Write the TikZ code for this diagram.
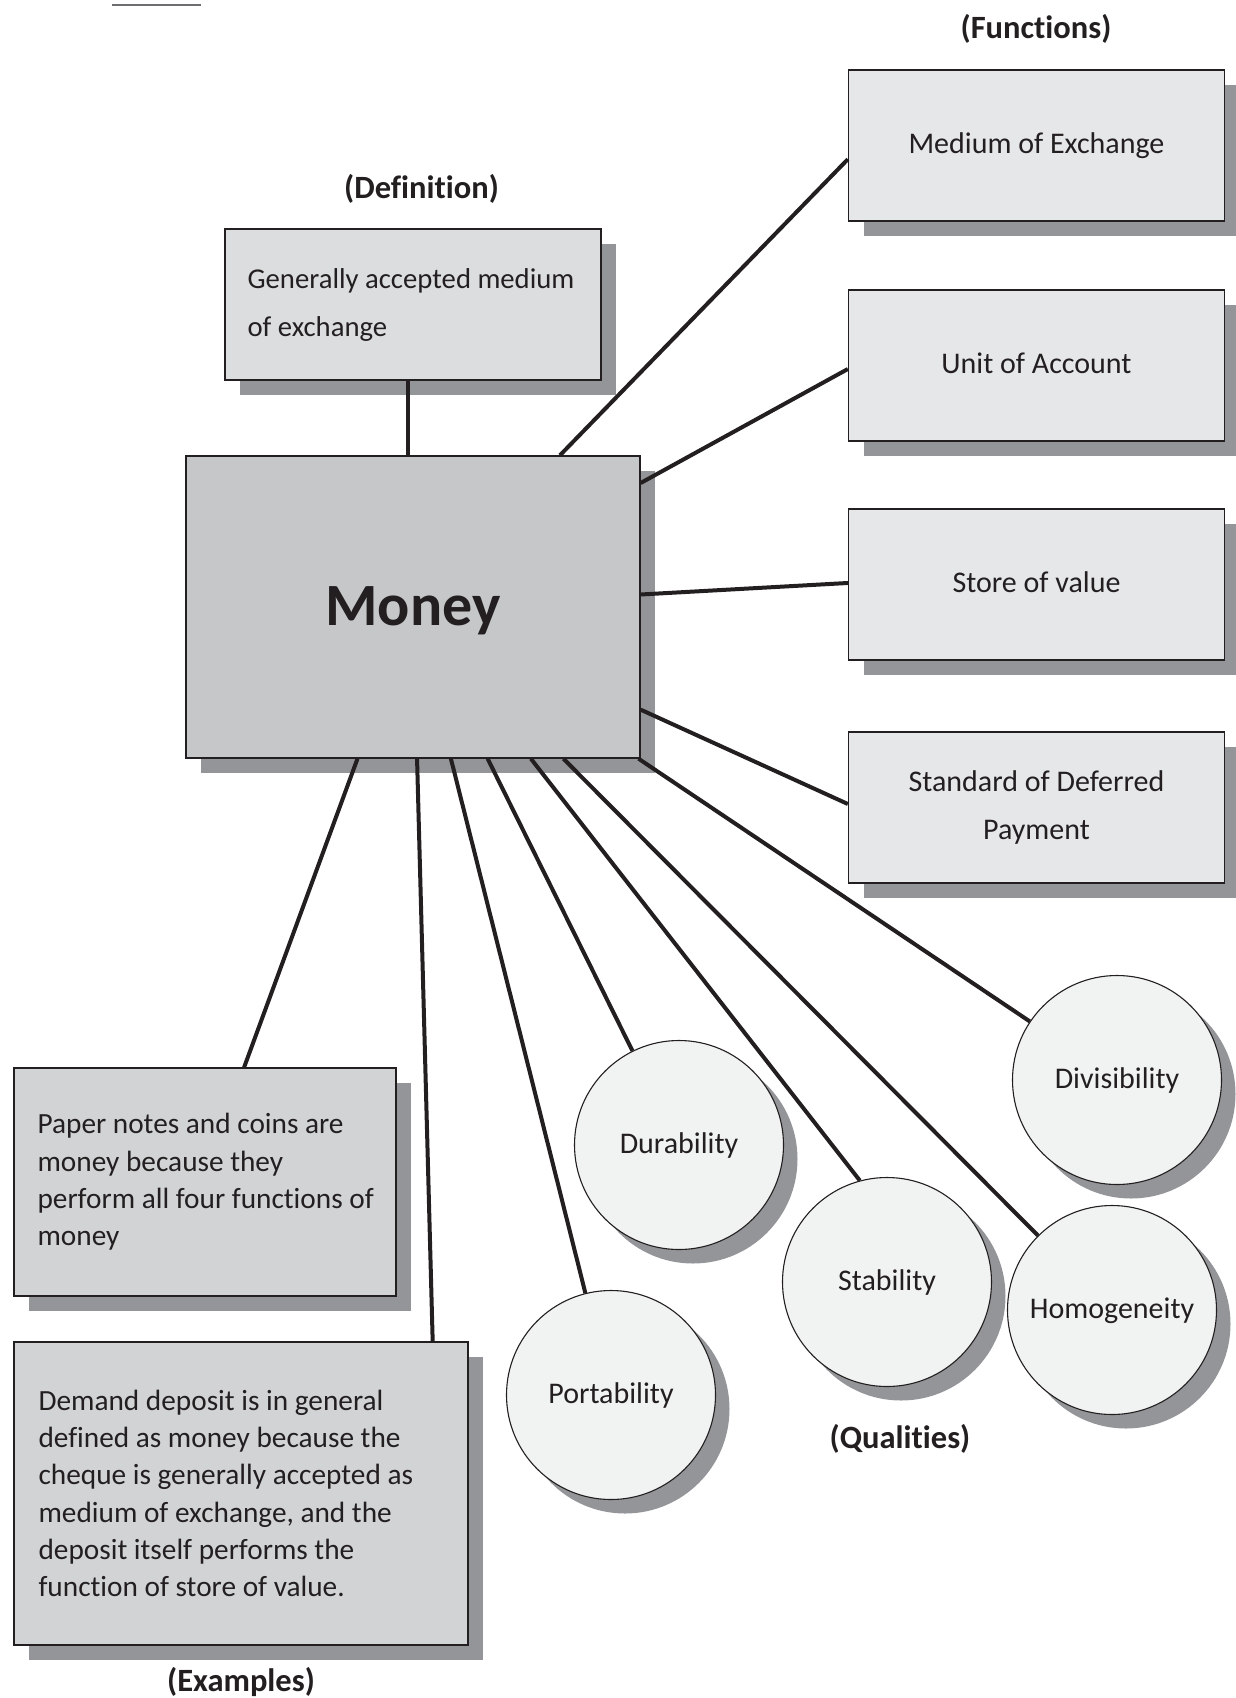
\documentclass[tikz,border=0pt]{standalone}
\usepackage{fontspec}
\setmainfont{Carlito}[Ligatures={NoCommon,NoDiscretionary,NoContextual,NoRare}]
\usetikzlibrary{calc,shadows}

\definecolor{ink}{HTML}{231F20}
\definecolor{shade}{HTML}{939598}
\definecolor{funcfill}{HTML}{E6E7E8}
\definecolor{deffill}{HTML}{DCDDDE}
\definecolor{moneyfill}{HTML}{C6C7C9}
\definecolor{exfill}{HTML}{D1D3D4}
\definecolor{qualfill}{HTML}{F1F2F2}
\definecolor{rulegray}{HTML}{6D6E71}

\tikzset{
  shadowed/.style={drop shadow={shadow xshift=15pt, shadow yshift=-15pt, opacity=1, fill=shade}},
  framed/.style={rectangle, draw=ink, line width=1.3pt, inner sep=0pt, text=ink, shadowed},
  funcbox/.style={framed, fill=funcfill, minimum width=376pt, minimum height=151pt,
    align=center, font=\fontsize{30}{48}\selectfont},
  oneline/.style={text height=22pt, text depth=6pt},
  defbox/.style={framed, fill=deffill, minimum width=376pt, minimum height=151pt},
  deftext/.style={inner sep=0pt, text=ink, align=left, font=\fontsize{28.7}{48}\selectfont},
  moneybox/.style={framed, fill=moneyfill, minimum width=454pt, minimum height=302pt,
    font=\bfseries\fontsize{60}{66}\selectfont, text height=40pt, text depth=4pt},
  exbox/.style={framed, fill=exfill},
  extext/.style={inner sep=0pt, text=ink, align=left, font=\fontsize{29.3}{37.3}\selectfont},
  quality/.style={circle, draw=ink, line width=1.1pt, fill=qualfill, minimum size=209pt,
    inner sep=0pt, text=ink, font=\fontsize{30}{36}\selectfont, oneline,
    drop shadow={shadow xshift=14pt, shadow yshift=-14pt, opacity=1, fill=shade}},
  heading/.style={inner sep=0pt, text=ink, font=\bfseries\fontsize{32.5}{36}\selectfont,
    text height=21pt, text depth=0pt},
  link/.style={draw=ink, line width=4pt},
  rule/.style={draw=rulegray, line width=2pt},
}

\begin{document}
\begin{tikzpicture}[x=1pt, y=-1pt]
\useasboundingbox (0,0) rectangle (1236,1698);

% short rule in the top margin
\draw[rule] (112,4.5) -- (201,4.5);

% group headings
\node[heading] (hFun)  at (1036,27.5) {(Functions)};
\node[heading] (hDef)  at (421.5,187.5) {(Definition)};
\node[heading] (hEx)   at (241,1681) {(Examples)};
\node[heading] (hQual) at (900,1438) {(Qualities)};

% functions of money
\node[funcbox, oneline] (med)   at (1036.5,145.5) {Medium of Exchange};
\node[funcbox, oneline] (unit)  at (1036.5,365.5) {Unit of Account};
\node[funcbox, oneline] (store) at (1036.5,584.5) {Store of value};
\node[funcbox]          (std)   at (1036.5,807.5) {Standard of Deferred\\Payment};

% definition
\node[defbox] (def) at (413,304.5) {};
\node[deftext, anchor=west] (defText) at ($(def.west)+(23,0)$)
  {Generally accepted medium\\of exchange};

% central concept
\node[moneybox] (money) at (413,607) {Money};

% examples
\node[exbox, minimum width=382pt, minimum height=228pt] (paper) at (205,1182) {};
\node[extext, anchor=west] (paperText) at ($(paper.west)+(24,0)$)
  {Paper notes and coins are\\money because they\\perform all four functions of\\money};
\node[exbox, minimum width=454pt, minimum height=303pt] (demand) at (241,1493.5) {};
\node[extext, anchor=west] (demandText) at ($(demand.west)+(25,0)$)
  {Demand deposit is in general\\defined as money because the\\cheque is generally accepted as\\medium of exchange, and the\\deposit itself performs the\\function of store of value.};

% qualities
\node[quality] (dura) at (679,1145)  {Durability};
\node[quality] (port) at (611,1395)  {Portability};
\node[quality] (stab) at (887,1282)  {Stability};
\node[quality] (homo) at (1112,1310) {Homogeneity};
\node[quality] (divi) at (1117,1080) {Divisibility};

% attachment points on the box edges
\coordinate (defFoot) at ($(def.south)+(-5,0)$);
\coordinate (medIn)   at ($(med.north west)!0.59!(med.south west)$);
\coordinate (unitIn)  at ($(unit.north west)!0.523!(unit.south west)$);
\coordinate (storeIn) at ($(store.north west)!0.49!(store.south west)$);
\coordinate (stdIn)   at ($(std.north west)!0.477!(std.south west)$);
\coordinate (paperIn) at ($(paper.north west)!0.602!(paper.north east)$);
\coordinate (demIn)   at ($(demand.north west)!0.921!(demand.north east)$);

% connectors
\draw[link] (defFoot) -- (defFoot |- money.north);
\draw[link] (money) -- (medIn);
\draw[link] (money) -- (unitIn);
\draw[link] (money) -- (storeIn);
\draw[link] (money) -- (stdIn);
\draw[link] (money) -- (divi);
\draw[link] (money) -- (homo);
\draw[link] (money) -- (stab.105);
\draw[link] (money) -- (dura);
\draw[link] (money) -- (port);
\draw[link] (money) -- (demIn);
\draw[link] (money) -- (paperIn);
\end{tikzpicture}
\end{document}
